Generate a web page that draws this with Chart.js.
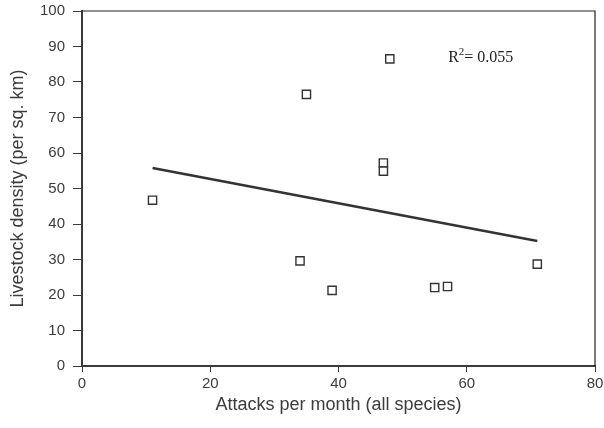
<!DOCTYPE html>
<html>
<head>
<meta charset="utf-8">
<script src="https://cdn.jsdelivr.net/npm/chart.js@4.4.1/dist/chart.umd.min.js"></script>
<style>
  html, body { margin: 0; padding: 0; background: #fff; }
  #wrap { width: 604px; height: 428px; }
</style>
</head>
<body>
<div id="wrap"><canvas id="c"></canvas></div>
<script>
// Attacks per month vs livestock density
const attacks = [11, 35, 34, 39, 47, 47, 48, 55, 57, 71];
const density = [46.7, 76.5, 29.6, 21.3, 57.2, 54.9, 86.5, 22.1, 22.4, 28.7];

// Fitted trend line end points
const trendX = [11, 71];
const trendY = [55.8, 35.2];

const xTicks = [0, 20, 40, 60, 80];
const yTicks = [0, 10, 20, 30, 40, 50, 60, 70, 80, 90, 100];
const r2Text = '0.055';

const axisColor = '#3a3a3a';
const textColor = '#3c3c3c';
const sans = '"Liberation Sans", Arial, sans-serif';

// Box round the plot area and the R² note
const boxPlugin = {
  id: 'box',
  afterDraw(chart) {
    const { ctx, chartArea: a } = chart;
    ctx.save();
    ctx.strokeStyle = '#222';
    ctx.lineWidth = 1.2;
    ctx.beginPath();
    ctx.moveTo(a.left, a.top);
    ctx.lineTo(a.right, a.top);
    ctx.lineTo(a.right, a.bottom);
    ctx.stroke();

    // R² label, placed in data units
    const px = chart.scales.x.getPixelForValue(57.1);
    const py = chart.scales.y.getPixelForValue(85.6);
    ctx.fillStyle = '#222';
    ctx.textBaseline = 'alphabetic';
    ctx.font = '16px "Liberation Serif", serif';
    ctx.fillText('R', px, py);
    let w = ctx.measureText('R').width;
    ctx.font = '11px "Liberation Serif", serif';
    ctx.fillText('2', px + w, py - 7);
    w += ctx.measureText('2').width;
    ctx.font = '16px "Liberation Serif", serif';
    ctx.fillText('= ' + r2Text, px + w, py);
    ctx.restore();
  }
};

new Chart(document.getElementById('c'), {
  type: 'scatter',
  data: {
    datasets: [
      {
        label: 'Sites',
        data: attacks.map((x, i) => ({ x: x, y: density[i] })),
        pointStyle: 'rect',
        pointRadius: 5.8,
        pointBorderWidth: 1.4,
        pointBorderColor: '#333',
        pointBackgroundColor: '#fff',
        showLine: false
      },
      {
        label: 'Trend',
        data: trendX.map((x, i) => ({ x: x, y: trendY[i] })),
        showLine: true,
        borderColor: '#333',
        borderWidth: 2.6,
        pointRadius: 0,
        fill: false
      }
    ]
  },
  options: {
    responsive: true,
    maintainAspectRatio: false,
    animation: false,
    layout: { padding: { top: 11, right: 9, left: 0, bottom: 0 } },
    plugins: {
      legend: { display: false },
      tooltip: { enabled: false }
    },
    scales: {
      x: {
        type: 'linear',
        min: 0,
        max: 80,
        afterBuildTicks: (s) => { s.ticks = xTicks.map(v => ({ value: v })); },
        afterFit: (s) => { s.height = 62; s.paddingLeft = 0; s.paddingRight = 0; },
        grid: { drawOnChartArea: false, color: axisColor, tickLength: 6, lineWidth: 1 },
        border: { display: true, color: axisColor, width: 2 },
        ticks: {
          color: textColor,
          padding: 3,
          font: { family: sans, size: 15 }
        },
        title: {
          display: true,
          text: 'Attacks per month (all species)',
          color: textColor,
          padding: { top: 12, bottom: 12 },
          font: { family: sans, size: 18 }
        }
      },
      y: {
        type: 'linear',
        min: 0,
        max: 100,
        afterBuildTicks: (s) => { s.ticks = yTicks.map(v => ({ value: v })); },
        afterFit: (s) => { s.width = 82; s.paddingTop = 0; s.paddingBottom = 0; },
        grid: { drawOnChartArea: false, color: axisColor, tickLength: 9, lineWidth: 1 },
        border: { display: true, color: axisColor, width: 2 },
        ticks: {
          color: textColor,
          padding: 8,
          font: { family: sans, size: 15 }
        },
        title: {
          display: true,
          text: 'Livestock density (per sq. km)',
          color: textColor,
          padding: { top: 7, bottom: 7 },
          font: { family: sans, size: 18 }
        }
      }
    }
  },
  plugins: [boxPlugin]
});
</script>
</body>
</html>
